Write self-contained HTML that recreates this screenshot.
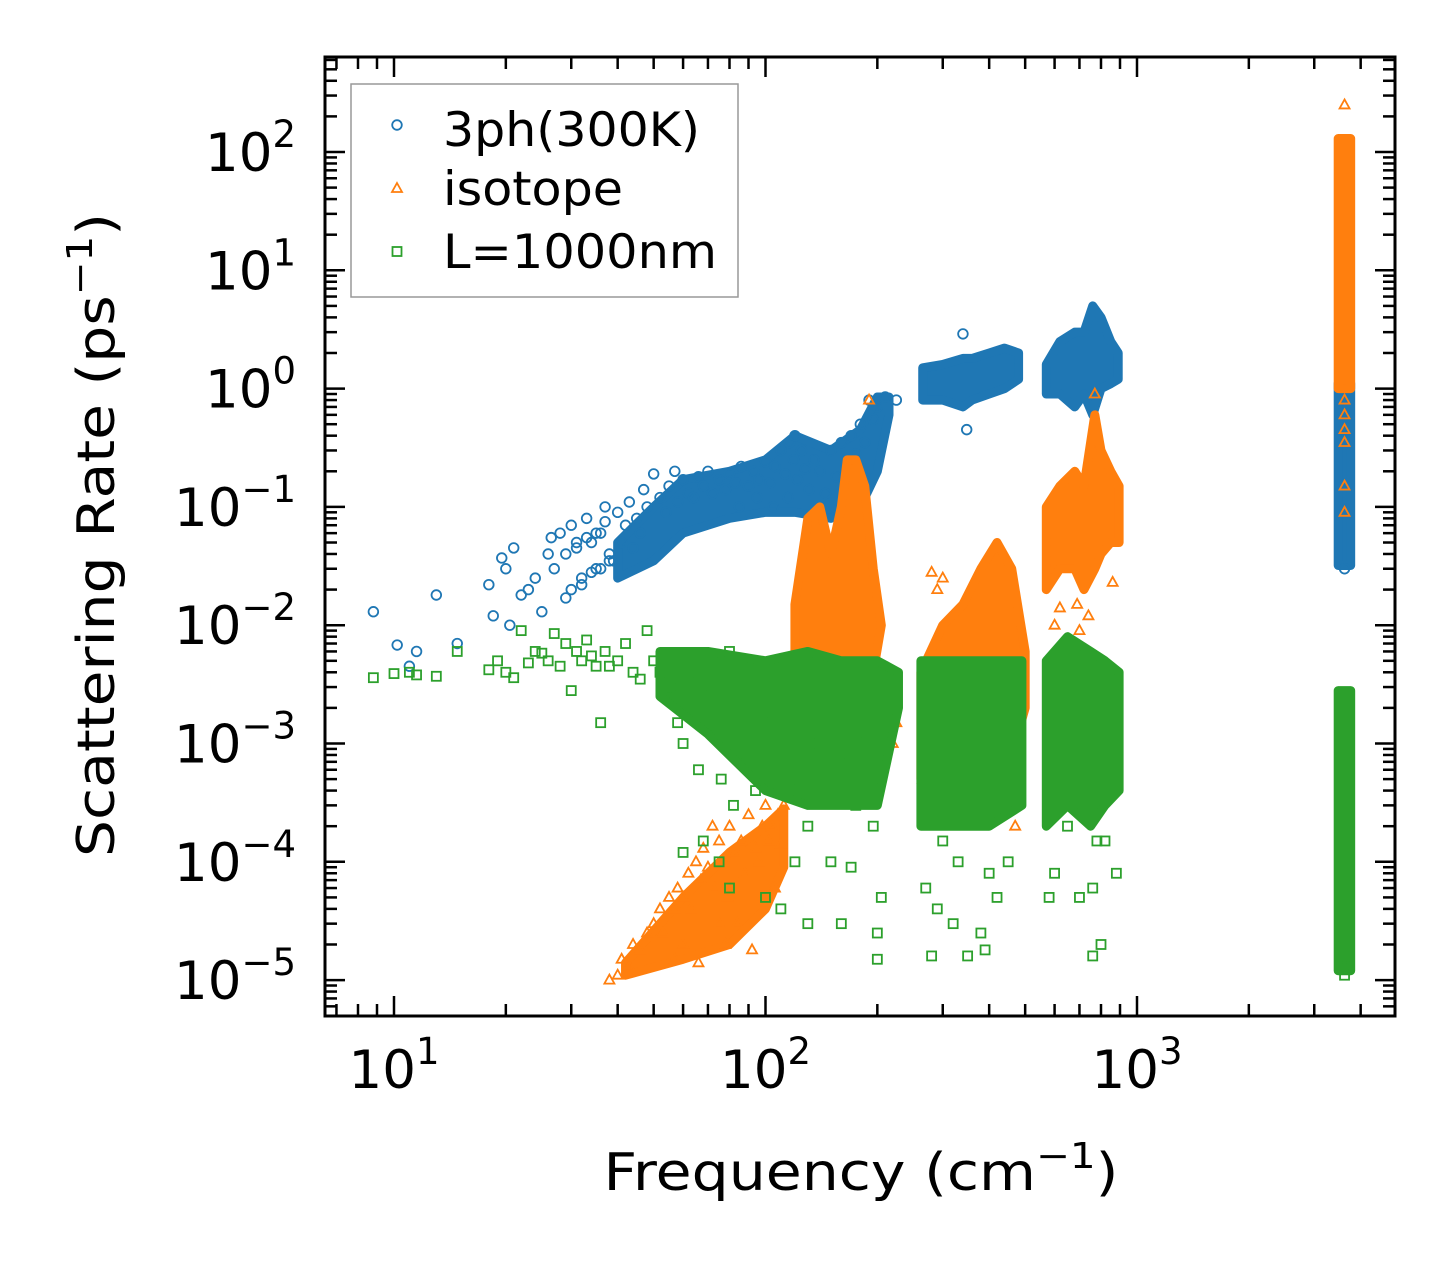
<!DOCTYPE html>
<html><head><meta charset="utf-8"><style>
html,body{margin:0;padding:0;background:#fff;}
svg{display:block;font-family:"DejaVu Sans","Liberation Sans",sans-serif;}
</style></head><body>
<svg id="chart" width="1455" height="1265" viewBox="0 0 1455 1265" xmlns="http://www.w3.org/2000/svg">
<rect x="0" y="0" width="1455" height="1265" fill="#fff"/>
<g id="bands"></g>
<g id="marks"></g>
<g id="axes"></g>
<text x="861" y="1190" font-size="52" text-anchor="middle" textLength="515" lengthAdjust="spacingAndGlyphs">Frequency (cm<tspan font-size="36" dy="-22">−1</tspan><tspan dy="22">)</tspan></text>
<text transform="translate(114,535) rotate(-90)" font-size="52" text-anchor="middle" textLength="644" lengthAdjust="spacingAndGlyphs">Scattering Rate (ps<tspan font-size="36" dy="-22">−1</tspan><tspan dy="22">)</tspan></text>
<g>
<rect x="351" y="84" width="387" height="213" fill="#fff" fill-opacity="0.8" stroke="#999" stroke-width="1.5"/>
<g><circle cx="397" cy="125" r="4.8" fill="none" stroke="#1f77b4" stroke-width="1.8"/><text x="443" y="146" font-size="47" textLength="257" lengthAdjust="spacingAndGlyphs">3ph(300K)</text></g>
<g><polygon points="397,183 402,192 392,192" fill="none" stroke="#ff7f0e" stroke-width="1.8"/><text x="443" y="205" font-size="47" textLength="180" lengthAdjust="spacingAndGlyphs">isotope</text></g>
<g><rect x="392.5" y="247" width="9" height="9" fill="none" stroke="#2ca02c" stroke-width="1.8"/><text x="443" y="268" font-size="47" textLength="274" lengthAdjust="spacingAndGlyphs">L=1000nm</text></g>
</g>
</svg>
<script>
// ---- data (frequency cm^-1, rate ps^-1) ----
const xTickExps = [1, 2, 3];
const yTickExps = [-5, -4, -3, -2, -1, 0, 1, 2];
const threeFreq = [8.8,10.2,11,11.5,13,14.8,18,18.5,19.5,20,20.5,21,22,23,24,25,26,26.5,27,28,29,30,31,32,33,34,35,36,37,38,39,40,41,42,43,44,45,46,47,48,50,52,54,55,57,58,60,62,64,66,68,70,72,75,78,80,83,86,90,93,96,100,103,106,110,113,116,119,122,125,128,131,135,140,145,150,155,160,165,170,175,180,185,190,195,200,210,225,85,95,105,115,120,340,348,3620,3620,30,32,34,36,38,29,31,33,35,37];
const threeRate = [0.013,0.0068,0.0045,0.006,0.018,0.007,0.022,0.012,0.037,0.03,0.01,0.045,0.018,0.02,0.025,0.013,0.04,0.055,0.03,0.06,0.017,0.07,0.045,0.025,0.08,0.05,0.03,0.06,0.1,0.04,0.035,0.09,0.05,0.07,0.11,0.045,0.08,0.06,0.14,0.1,0.19,0.12,0.09,0.15,0.2,0.11,0.17,0.13,0.12,0.18,0.15,0.2,0.13,0.17,0.14,0.19,0.16,0.22,0.15,0.2,0.17,0.24,0.16,0.22,0.3,0.19,0.35,0.25,0.17,0.3,0.21,0.14,0.25,0.2,0.13,0.3,0.18,0.35,0.22,0.4,0.28,0.5,0.35,0.8,0.55,0.7,0.85,0.8,0.1,0.12,0.1,0.12,0.4,2.9,0.45,0.03,1.1,0.02,0.022,0.028,0.03,0.035,0.04,0.05,0.055,0.06,0.075];
const isoFreq = [38,40,41,43,44,46,48,50,52,53,55,57,58,60,62,63,65,67,68,70,72,73,75,77,79,80,82,84,86,88,90,92,94,96,98,100,102,104,106,108,110,112,57,60,66,75,78,190,225,220,210,300,420,480,300,330,470,265,280,290,770,600,650,700,860,620,690,740,3620,3620,3620,3620,3620,3620,3620];
const isoRate = [1e-5,1.1e-5,1.5e-5,1.3e-5,2e-5,1.8e-5,2.5e-5,3e-5,4e-5,2.5e-5,5e-5,4e-5,6e-5,5e-5,8e-5,4e-5,1e-4,7e-5,1.3e-4,9e-5,2e-4,6e-5,1.5e-4,1e-4,5e-5,2e-4,1.2e-4,3e-5,1.5e-4,8e-5,2.5e-4,1.8e-5,1.3e-4,1e-4,2e-4,3e-4,1.5e-4,2e-4,6e-5,2.5e-4,1.4e-4,3e-4,1.5e-5,2e-5,1.4e-5,3e-5,2e-5,0.8,0.0015,0.001,0.003,0.025,0.0003,0.0008,0.0003,0.0004,0.0002,0.0005,0.028,0.02,0.9,0.01,0.007,0.009,0.023,0.014,0.015,0.012,250,0.15,0.09,0.35,0.45,0.6,0.8];
const bndFreq = [8.8,10,11,11.5,13,14.8,18,19,20,21,22,23,24,25,26,27,28,29,30,31,32,33,34,35,36,37,38,40,42,44,46,48,50,52,54,56,58,60,62,64,66,68,72,76,80,82,88,94,98,108,116,130,140,150,160,175,185,195,205,80,100,130,160,200,200,68,75,60,110,170,120,270,290,320,350,390,420,280,380,300,450,330,400,580,600,700,760,780,800,760,650,820,880,3620,3620];
const bndRate = [0.0036,0.0039,0.004,0.0038,0.0037,0.006,0.0042,0.005,0.004,0.0036,0.009,0.0048,0.006,0.0058,0.005,0.0085,0.0045,0.007,0.0028,0.006,0.005,0.0075,0.0055,0.0045,0.0015,0.006,0.0045,0.005,0.007,0.004,0.0035,0.009,0.005,0.004,0.0025,0.003,0.0015,0.001,0.004,0.002,0.0006,0.003,0.0012,0.0005,0.006,0.0003,0.0008,0.0004,0.0015,0.001,0.0005,0.0002,0.001,0.0001,0.0007,0.0003,0.0012,0.0002,0.00005,0.00006,0.00005,0.00003,0.00003,0.000025,0.000015,0.00015,0.0001,0.00012,0.00004,0.00009,0.0001,0.00006,0.00004,0.00003,0.000016,0.000018,0.00005,0.000016,0.000025,0.00015,0.0001,0.0001,0.00008,0.00005,0.00008,0.00005,0.00006,0.00015,0.00002,0.000016,0.0002,0.00015,0.00008,0.000011,0.000013];
// dense regions (frequency nodes, lower and upper rate envelopes)
const threeBandFreq = [[40,50,60,80,100,120,150,180,200,215],[265,300,340,360,400,440,480],[570,620,680,720,760,800,850,890],[3480,3760]];
const threeBandLow  = [[0.025,0.035,0.06,0.08,0.09,0.09,0.08,0.1,0.2,0.6],[0.8,0.8,0.7,0.8,0.9,1.0,1.2],[0.9,0.9,0.7,0.9,0.6,1.0,1.1,1.2],[0.032,0.032]];
const threeBandHigh = [[0.05,0.1,0.17,0.2,0.25,0.4,0.3,0.45,0.85,0.85],[1.5,1.6,1.8,1.8,2.0,2.2,2.0],[1.6,2.5,3,3,5,4,2.5,2],[1.1,1.1]];
const isoBandFreq = [[42,60,80,100,112],[120,130,140,150,160,166,175,185,195,205],[262,300,340,380,420,460,500],[570,620,680,720,770,800,850,895],[3480,3760]];
const isoBandLow  = [[1.1e-5,1.5e-5,2e-5,4e-5,9e-5],[0.001,0.001,0.0015,0.001,0.001,0.002,0.002,0.002,0.004,0.01],[0.0005,0.0006,0.0006,0.0006,0.0006,0.0008,0.002],[0.02,0.03,0.03,0.02,0.03,0.04,0.05,0.05],[1.0,1.0]];
const isoBandHigh = [[1.4e-5,5e-5,1.2e-4,2e-4,2.8e-4],[0.015,0.08,0.1,0.04,0.1,0.25,0.25,0.15,0.03,0.01],[0.004,0.01,0.015,0.03,0.05,0.03,0.006],[0.1,0.15,0.2,0.15,0.6,0.3,0.2,0.15],[130,130]];
const bndBandFreq = [[52,70,100,130,160,200,228],[262,300,400,490],[570,650,750,820,895],[3480,3760]];
const bndBandLow  = [[0.0025,0.0012,0.0004,0.0003,0.0003,0.0003,0.002],[0.0002,0.0002,0.0002,0.0003],[0.0002,0.0003,0.0002,0.0003,0.0004],[1.2e-5,1.2e-5]];
const bndBandHigh = [[0.006,0.006,0.005,0.006,0.005,0.005,0.004],[0.005,0.005,0.005,0.005],[0.005,0.008,0.006,0.005,0.004],[0.0028,0.0028]];

const NS = "http://www.w3.org/2000/svg";
const L = 325, R = 1395, T = 57, B = 1016;
const X0 = 394, XD = 371.5;
const Y0 = 152, YD = 118.3;
function xs(v){ return X0 + (Math.log10(v) - 1) * XD; }
function ys(v){ return Y0 - (Math.log10(v) - 2) * YD; }
const C3 = "#1f77b4", CI = "#ff7f0e", CB = "#2ca02c";

const marksG = document.getElementById('marks');
const axesG = document.getElementById('axes');

function band(g, fr, lo, hi, col, name){
  const pts = [];
  for (let i = 0; i < fr.length; i++) pts.push(xs(fr[i]) + ',' + ys(hi[i]));
  for (let i = fr.length - 1; i >= 0; i--) pts.push(xs(fr[i]) + ',' + ys(lo[i]));
  const p = document.createElementNS(NS, 'polygon');
  
  
  p.setAttribute('points', pts.join(' '));
  p.setAttribute('fill', col);
  p.setAttribute('stroke', col);
  p.setAttribute('stroke-width', '9');
  p.setAttribute('stroke-linejoin', 'round');
  g.appendChild(p);
}
function marker(kind, x, y, col){
  let el;
  if (kind === 'c') {
    el = document.createElementNS(NS, 'circle');
    el.setAttribute('cx', x); el.setAttribute('cy', y); el.setAttribute('r', 4.8);
  } else if (kind === 't') {
    el = document.createElementNS(NS, 'polygon');
    el.setAttribute('points', x + ',' + (y - 5.5) + ' ' + (x + 5) + ',' + (y + 3.5) + ' ' + (x - 5) + ',' + (y + 3.5));
  } else {
    el = document.createElementNS(NS, 'rect');
    el.setAttribute('x', x - 4.5); el.setAttribute('y', y - 4.5);
    el.setAttribute('width', 9); el.setAttribute('height', 9);
  }
  el.setAttribute('fill', 'none');
  el.setAttribute('stroke', col);
  el.setAttribute('stroke-width', '1.8');
  return el;
}
function series(kind, fr, rt, bf, bl, bh, col, name){
  const g = document.createElementNS(NS, 'g');
  
  
  for (let i = 0; i < bf.length; i++) band(g, bf[i], bl[i], bh[i], col, name + '-dense-region');
  for (let i = 0; i < fr.length; i++) {
    const m = marker(kind, xs(fr[i]), ys(rt[i]), col);
    
    
    g.appendChild(m);
  }
  marksG.appendChild(g);
}
series('c', threeFreq, threeRate, threeBandFreq, threeBandLow, threeBandHigh, C3, '3ph');
series('t', isoFreq, isoRate, isoBandFreq, isoBandLow, isoBandHigh, CI, 'isotope');
series('s', bndFreq, bndRate, bndBandFreq, bndBandLow, bndBandHigh, CB, 'boundary');

function line(x1, y1, x2, y2, w, name){
  const l = document.createElementNS(NS, 'line');
  
  
  l.setAttribute('x1', x1); l.setAttribute('y1', y1); l.setAttribute('x2', x2); l.setAttribute('y2', y2);
  l.setAttribute('stroke', '#000'); l.setAttribute('stroke-width', w);
  axesG.appendChild(l);
}
function label(x, y, e, anchor, name){
  const t = document.createElementNS(NS, 'text');
  
  
  t.setAttribute('x', x); t.setAttribute('y', y);
  t.setAttribute('font-size', '53');
  t.setAttribute('text-anchor', anchor);
  const s = (e < 0 ? '\u2212' + (-e) : '' + e);
  t.innerHTML = '10<tspan font-size="37" dy="-24">' + s + '</tspan>';
  axesG.appendChild(t);
}
for (let e = 0; e <= 3; e++) {
  for (let k = 1; k <= 9; k++) {
    const v = k * Math.pow(10, e);
    const px = xs(v);
    if (px < L + 1 || px > R - 1) continue;
    const len = k === 1 ? 20 : 12;
    line(px, B, px, B - len, 2.5, 'x-tick');
    line(px, T, px, T + len, 2.5, 'x-tick-top');
  }
}
xTickExps.forEach(e => label(xs(Math.pow(10, e)), 1088, e, 'middle', 'x-tick-label'));
for (let e = -6; e <= 2; e++) {
  for (let k = 1; k <= 9; k++) {
    const v = k * Math.pow(10, e);
    const py = ys(v);
    if (py < T + 1 || py > B - 1) continue;
    const len = k === 1 ? 20 : 12;
    line(L, py, L + len, py, 2.5, 'y-tick');
    line(R, py, R - len, py, 2.5, 'y-tick-right');
  }
}
yTickExps.forEach(e => label(296, ys(Math.pow(10, e)) + 19, e, 'end', 'y-tick-label'));
const fr = document.createElementNS(NS, 'rect');


fr.setAttribute('x', L); fr.setAttribute('y', T);
fr.setAttribute('width', R - L); fr.setAttribute('height', B - T);
fr.setAttribute('fill', 'none'); fr.setAttribute('stroke', '#000'); fr.setAttribute('stroke-width', '3');
axesG.appendChild(fr);
</script>
</body></html>
